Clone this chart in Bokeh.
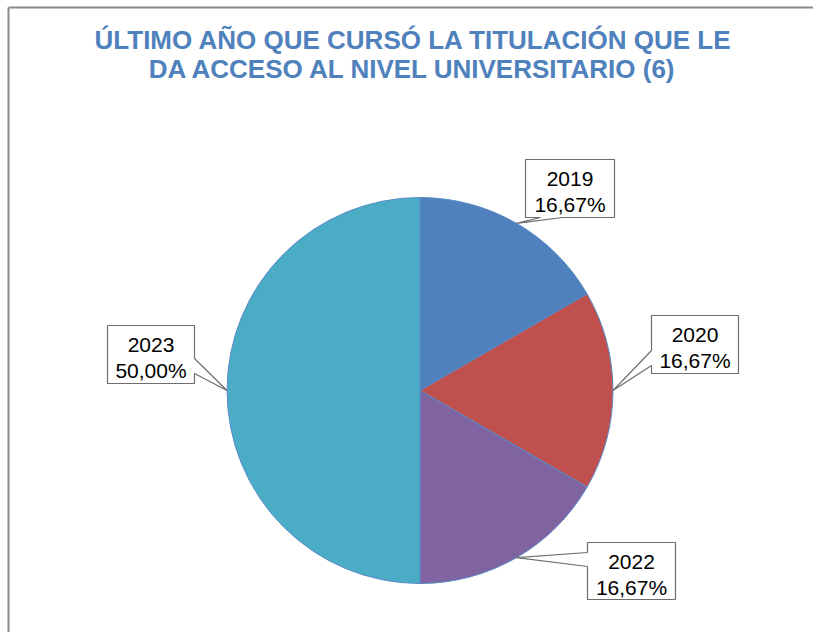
import math
from bokeh.plotting import figure
from bokeh.models import Range1d, ColumnDataSource
from bokeh.core.properties import value
from bokeh.embed import file_html
from bokeh.resources import INLINE

# ---- data ----
title_lines = ["ÚLTIMO AÑO QUE CURSÓ LA TITULACIÓN QUE LE",
               "DA ACCESO AL NIVEL UNIVERSITARIO (6)"]
years = ["2019", "2020", "2022", "2023"]
counts = [1, 1, 1, 3]
colors = ["#4F81BD", "#C0504D", "#8064A2", "#4BACC6"]

# ---- layout (screenshot pixel coords) ----
W, H = 813, 632
def px(X):
    return X
def py(Y):
    return H - Y

CX, CY, R = 419.5, 390.0, 193.0
# callout boxes: left, top, right, bottom, side of pointer, base points along that side
boxes = [
    (525, 159, 614, 217, "bottom", (540, 562)),
    (651, 315, 738, 373, "left", (350, 365)),
    (587, 542, 675, 599, "left", (552, 566)),
    (107, 325, 194, 383, "right", (358, 373)),
]

total = sum(counts)
fracs = [c / total for c in counts]
pct_labels = [("%.2f" % (f * 100)).replace(".", ",") + "%" for f in fracs]

starts, ends, mids = [], [], []
a = math.pi / 2
for f in fracs:
    e = a - f * 2 * math.pi
    starts.append(a)
    ends.append(e)
    mids.append((a + e) / 2)
    a = e

p = figure(width=W, height=H, x_range=Range1d(0, W), y_range=Range1d(0, H),
           output_backend="svg", toolbar_location=None, min_border=0,
           x_axis_location=None, y_axis_location=None)
p.grid.visible = False
p.outline_line_color = None
p.background_fill_color = "white"
p.border_fill_color = "white"

# frame (left and top edges visible in window)
p.line([px(8), px(8)], [py(7), py(700)], line_color="#8a8a8a", line_width=2)
p.line([px(8), px(900)], [py(7), py(7)], line_color="#8a8a8a", line_width=2)

# pie
src = ColumnDataSource(dict(start=starts, end=ends, color=colors, year=years))
p.wedge(x=px(CX), y=py(CY), radius=R, start_angle="start", end_angle="end",
        direction="clock", fill_color="color", line_color="#5a8ac6", line_width=1,
        source=src)

# callouts
for i, (l, t, r, b, side, base) in enumerate(boxes):
    ang = mids[i]
    tx = CX + R * math.cos(ang)
    ty = CY - R * math.sin(ang)
    if side == "bottom":
        pts = [(l, t), (r, t), (r, b), (base[1], b), (tx, ty), (base[0], b), (l, b)]
    elif side == "left":
        pts = [(l, t), (r, t), (r, b), (l, b), (l, base[1]), (tx, ty), (l, base[0])]
    else:  # right
        pts = [(l, t), (r, t), (r, base[0]), (tx, ty), (r, base[1]), (r, b), (l, b)]
    xs = [px(x) for x, _ in pts]
    ys = [py(y) for _, y in pts]
    p.patch(xs, ys, fill_color="white", line_color="#6e6e6e", line_width=1.2)
    cxm = (l + r) / 2
    p.text(x=[px(cxm)], y=[py(t + 19)], text=[years[i]], text_align="center",
           text_baseline="middle", text_font=value("Liberation Sans"),
           text_font_size="21px", text_color="black")
    p.text(x=[px(cxm)], y=[py(t + 45)], text=[pct_labels[i]], text_align="center",
           text_baseline="middle", text_font=value("Liberation Sans"),
           text_font_size="21px", text_color="black")

# title
title_y = [39, 68]
for line, ty in zip(title_lines, title_y):
    p.text(x=[px(413)], y=[py(ty)], text=[line], text_align="center",
           text_baseline="middle", text_font=value("Liberation Sans"),
           text_font_style="bold", text_font_size="26px", text_color="#4F81BD")

open("out.html", "w").write(file_html(p, INLINE))
